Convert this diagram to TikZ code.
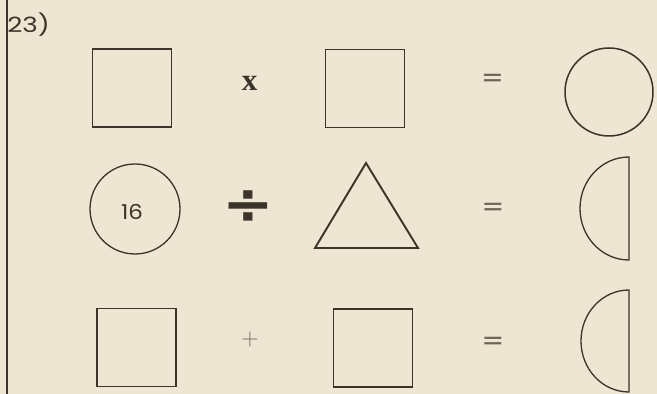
\documentclass[tikz,border=0pt]{standalone}
\usepackage{fontspec}
\newfontfamily\geo{Poppins}
\newfontfamily\serifb{Liberation Serif}
\newfontfamily\dvs{DejaVu Sans}
\definecolor{paper}{HTML}{EEE6D3}
\definecolor{ink}{HTML}{3B342A}
\definecolor{softink}{HTML}{6F6656}
\begin{document}
\begin{tikzpicture}[x=1pt,y=1pt,
  shp/.style={draw=ink,line width=1.9pt,fill=none},
  sq/.style={shp,rectangle,minimum width=79pt,minimum height=78pt,inner sep=0pt},
  circ/.style={draw=ink,line width=1.5pt,circle,inner sep=0pt},
  sym/.style={inner sep=0pt,text=softink},
  eqsign/.style={sym,font=\fontsize{27}{27}\selectfont\dvs},
  line cap=butt]
\fill[paper] (0,0) rectangle (657,394);
\useasboundingbox (0,0) rectangle (657,394);
\coordinate (lt) at (7,394);
\coordinate (lb) at (7,0);
\draw[ink,line width=1.8pt] (lt) -- (lb);
\node[inner sep=0pt,text=ink,anchor=west,xscale=1.25] (num) at (7,369) {\fontsize{21}{21}\selectfont\geo 23)};
% row 1
\node[sq] (s1) at (132,306) {};
\node[inner sep=0pt,text=ink] (times) at (249.5,311) {\fontsize{31}{31}\selectfont\serifb\bfseries x};
\node[sq] (s2) at (365,305.5) {};
\node[eqsign] (eq1) at (492.5,314) {=};
\node[circ,minimum size=88pt] (c1) at (609,302) {};
% row 2
\node[circ,minimum size=90pt,line width=1.3pt] (c16) at (135,185) {};
\node[inner sep=0pt,text=ink,xscale=1.12] (n16) at (132,182) {\fontsize{20.5}{20.5}\selectfont\geo 16};
\node[inner sep=0pt,text=ink,xscale=1.1] (div) at (248.5,187) {\fontsize{56}{56}\selectfont\dvs\bfseries ÷};
\coordinate (ta) at (366,231);
\coordinate (tl) at (315,146);
\coordinate (tr) at (418,146);
\draw[shp,line join=miter] (ta) -- (tl) -- (tr) -- cycle;
\node[eqsign] (eq2) at (493,185) {=};
\coordinate (h1t) at (629,237);
\coordinate (h1b) at (629,134);
\draw[draw=ink,line width=1.3pt] (h1t) arc[start angle=90,end angle=270,x radius=49,y radius=51.5] -- cycle;
% row 3
\node[sq] (s3) at (136.5,46.5) {};
\node[sym,font=\fontsize{24}{24}\selectfont] (plus) at (250,54) {+};
\node[sq] (s4) at (373,46) {};
\node[eqsign] (eq3) at (493,51) {=};
\coordinate (h2t) at (629,104);
\coordinate (h2b) at (629,2);
\draw[draw=ink,line width=1.3pt] (h2t) arc[start angle=90,end angle=270,x radius=48,y radius=51] -- cycle;
\end{tikzpicture}
\end{document}
